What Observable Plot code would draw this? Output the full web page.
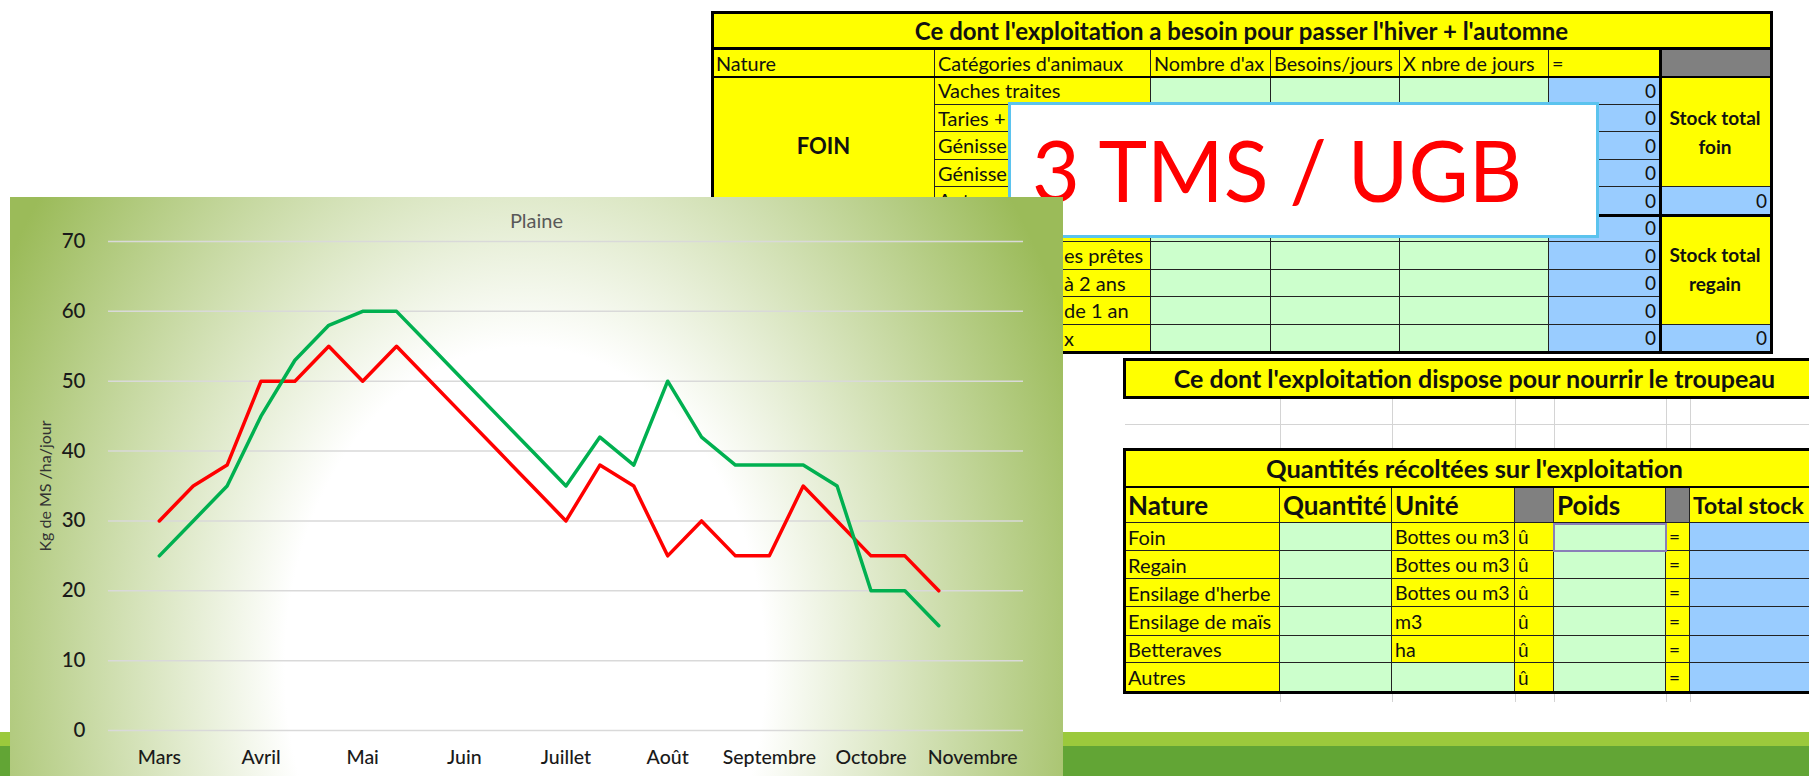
<!DOCTYPE html>
<html><head><meta charset="utf-8">
<script src="https://cdn.jsdelivr.net/npm/d3@7"></script>
<script src="https://cdn.jsdelivr.net/npm/@observablehq/plot@0.6"></script>
<style>
html,body{margin:0;padding:0;}
body{width:1809px;height:776px;position:relative;overflow:hidden;background:#fff;font-family:Lato,"Open Sans",sans-serif;}
.c{position:absolute;box-sizing:border-box;overflow:hidden;white-space:nowrap;color:#111;display:flex;align-items:center;border-right:1px solid #222;border-bottom:1px solid #222;}
.frame{position:absolute;box-sizing:border-box;border:3px solid #000;pointer-events:none;}
.ln{position:absolute;background:#000;}
</style></head><body>
<script>
// ---------- chart data ----------
const months = ["Mars","Avril","Mai","Juin","Juillet","Août","Septembre","Octobre","Novembre"];
const serieRouge = [30,35,38,50,50,55,50,55,50,45,40,35,30,38,35,25,30,25,25,35,30,25,25,20];
const serieVerte = [25,30,35,45,53,58,60,60,55,50,45,40,35,42,38,50,42,38,38,38,35,20,20,15];
const yTicks = [0,10,20,30,40,50,60,70];
const chartTitle = "Plaine";
const yLabel = "Kg de MS /ha/jour";

// ---------- spreadsheet texts ----------
const besoinTitle = "Ce dont l'exploitation a besoin pour passer l'hiver + l'automne";
const besoinHeader = ["Nature","Catégories d'animaux","Nombre d'ax","Besoins/jours","X nbre de jours","="];
const besoinCategories = ["Vaches traites","Taries +","Génisse","Génisse","Autres","","es prêtes","à 2 ans","de 1 an","x"];
const besoinNature = ["FOIN","REGAIN"];
const stockLabels = [["Stock total","foin"],["Stock total","regain"]];
const overlayText = "3 TMS / UGB";
const disposeTitle = "Ce dont l'exploitation dispose pour nourrir le troupeau";
const recolteTitle = "Quantités récoltées sur l'exploitation";
const recolteHeader = ["Nature","Quantité","Unité","","Poids","","Total stock"];
const recolteNature = ["Foin","Regain","Ensilage d'herbe","Ensilage de maïs","Betteraves","Autres"];
const recolteUnite = ["Bottes ou m3","Bottes ou m3","Bottes ou m3","m3","ha",""];

const YEL="#FFFF00", GRN="#CCFFCC", BLU="#99CCFF", GRY="#808080";

function cell(x1,y1,x2,y2,o={}){
  const d=document.createElement("div");
  d.className="c";
  Object.assign(d.style,{left:x1+"px",top:y1+"px",width:(x2-x1)+"px",height:(y2-y1)+"px",background:o.bg||"transparent",fontSize:(o.size||19)+"px",fontWeight:o.bold?"700":"400",justifyContent:o.align==="center"?"center":o.align==="right"?"flex-end":"flex-start",paddingLeft:(o.pl??3)+"px",paddingRight:(o.pr??3)+"px",zIndex:o.z||1});
  if(o.html) d.innerHTML=o.html; else if(o.text!==undefined) d.textContent=o.text;
  if(o.lh) d.style.lineHeight=o.lh;
  if(o.flexCol){d.style.flexDirection="column";d.style.justifyContent="center";}
  document.body.appendChild(d);return d;
}
function frame(x1,y1,x2,y2,w=3,z=2,color="#000"){
  const d=document.createElement("div");d.className="frame";
  Object.assign(d.style,{left:x1+"px",top:y1+"px",width:(x2-x1)+"px",height:(y2-y1)+"px",borderWidth:w+"px",borderColor:color,zIndex:z});
  document.body.appendChild(d);return d;
}
function line(x1,y1,x2,y2,color="#000",z=2){
  const d=document.createElement("div");d.className="ln";
  Object.assign(d.style,{left:x1+"px",top:y1+"px",width:Math.max(1,x2-x1)+"px",height:Math.max(1,y2-y1)+"px",background:color,zIndex:z});
  document.body.appendChild(d);return d;
}
function placeBaseline(el,targetY){
  const m=document.createElement("span");
  m.style.cssText="display:inline-block;width:0;height:0;vertical-align:baseline";
  el.appendChild(m);
  const y=m.getBoundingClientRect().top;
  el.style.top=(parseFloat(el.style.top)+(targetY-y))+"px";
  m.remove();
}

// ---------- top table ----------
const cx=[713,935,1151,1271,1400,1549,1660,1771];
const rowY=i=>77+i*27.5;
cell(713,13,1771,49,{bg:YEL,text:besoinTitle,bold:true,size:24,align:"center"});
besoinHeader.forEach((t,i)=>cell(cx[i],49,cx[i+1],77,{bg:YEL,text:t,size:19.8}));
cell(cx[6],49,cx[7],77,{bg:GRY});
cell(cx[0],rowY(0),cx[1],rowY(5),{bg:YEL,text:besoinNature[0],bold:true,size:22,align:"center"});
cell(cx[0],rowY(5),cx[1],rowY(10),{bg:YEL,text:besoinNature[1],bold:true,size:22,align:"center"});
besoinCategories.forEach((t,i)=>{
  cell(cx[1],rowY(i),cx[2],rowY(i+1),{bg:YEL,text:t,size:20,pl:i>=6?129:3});
  for(let k=2;k<5;k++) cell(cx[k],rowY(i),cx[k+1],rowY(i+1),{bg:GRN});
  cell(cx[5],rowY(i),cx[6],rowY(i+1),{bg:BLU,text:"0",size:19,align:"right"});
});
stockLabels.forEach((s,g)=>{
  cell(cx[6],rowY(g*5),cx[7],rowY(g*5+4),{bg:YEL,html:s.map(t=>`<div>${t}</div>`).join(""),bold:true,size:19,align:"center",flexCol:true,lh:"29px"});
  cell(cx[6],rowY(g*5+4),cx[7],rowY(g*5+5),{bg:BLU,text:"0",size:19,align:"right"});
});
frame(711,11,1773,354,3);
line(713,47,1771,50);line(713,76,1771,78);
line(713,rowY(5)-1,1771,rowY(5)+2);
line(cx[6]-1,49,cx[6]+2,352);

// overlay box
const ob=document.createElement("div");
Object.assign(ob.style,{position:"absolute",left:"1008px",top:"102px",width:"591px",height:"136px",boxSizing:"border-box",border:"3px solid #5BC3EE",background:"#fff",zIndex:5});
document.body.appendChild(ob);
const ot=document.createElement("span");
ot.textContent=overlayText;
Object.assign(ot.style,{position:"absolute",left:"21px",top:"0px",fontSize:"86px",lineHeight:"100px",color:"#FF0000",fontFamily:"Lato",transformOrigin:"left center",display:"inline-block",whiteSpace:"nowrap"});
ob.appendChild(ot);

// ---------- bottom tables ----------
const bx=[1125,1280,1392,1515,1554,1666,1690,1825];
cell(1125,360,1825,397,{bg:YEL,text:disposeTitle,bold:true,size:25,align:"center"});
frame(1123,358,1827,399,3);
[424,450].forEach(y=>line(1125,y,1809,y+1,"#d4d4d4",0));
bx.slice(1,7).forEach(x=>{line(x,397,x+1,450,"#d4d4d4",0);line(x,692,x+1,702,"#d4d4d4",0);});
cell(1125,450,1825,487,{bg:YEL,text:recolteTitle,bold:true,size:25.5,align:"center"});
recolteHeader.forEach((t,i)=>cell(bx[i],487,bx[i+1],523,{bg:(i===3||i===5)?GRY:YEL,text:t,bold:true,size:i===6?23:26}));
const rY=[523,551,579,607,636,663,692];
recolteNature.forEach((n,i)=>{
  cell(bx[0],rY[i],bx[1],rY[i+1],{bg:YEL,text:n,size:20});
  cell(bx[1],rY[i],bx[2],rY[i+1],{bg:GRN});
  cell(bx[2],rY[i],bx[3],rY[i+1],{bg:recolteUnite[i]?YEL:GRN,text:recolteUnite[i],size:19.5});
  cell(bx[3],rY[i],bx[4],rY[i+1],{bg:YEL,text:"û",size:19});
  cell(bx[4],rY[i],bx[5],rY[i+1],{bg:GRN});
  cell(bx[5],rY[i],bx[6],rY[i+1],{bg:YEL,text:"=",size:19});
  cell(bx[6],rY[i],bx[7],rY[i+1],{bg:BLU});
});
frame(bx[4]-1,rY[0],bx[5]+1,rY[1]+1,2,3,"#8a7fb8");
frame(1123,448,1827,694,3);
line(1125,486,1825,488);

// ---------- green band ----------
line(0,732,1809,746,"#9BC93C",0);
line(0,746,1809,776,"#62A535",0);

// ---------- chart panel ----------
const panel=document.createElement("div");
Object.assign(panel.style,{position:"absolute",left:"10px",top:"197px",width:"1053px",height:"579px",zIndex:10,overflow:"hidden",
  background:"radial-gradient(600px 800px at 515px 470px, #ffffff 0%, #ffffff 40%, #9BBB59 100%)"});
document.body.appendChild(panel);
const tt=document.createElement("div");
tt.textContent=chartTitle;
Object.assign(tt.style,{position:"absolute",left:"0",top:"0px",width:"1053px",textAlign:"center",fontSize:"20px",lineHeight:"26px",color:"#595959",fontFamily:"Lato",zIndex:2});
panel.appendChild(tt);

const chart=Plot.plot({
  width:1053,height:579,
  marginLeft:98,marginRight:40,marginTop:44,marginBottom:46,
  style:{background:"transparent",fontFamily:"Lato",overflow:"visible"},
  x:{domain:[-1.5,25.5],axis:null},
  y:{domain:[0,70],axis:null},
  marks:[
    Plot.gridY(yTicks,{stroke:"#D9D9D9",strokeOpacity:1,strokeWidth:1.5}),
    Plot.axisY(yTicks,{tickSize:0,tickPadding:23,fontSize:20.5,fontWeight:500,fill:"#1a1a1a",label:null}),
    Plot.axisX(months.map((m,i)=>i*3),{tickSize:0,tickPadding:20,fontSize:19.5,fontWeight:500,fill:"#1a1a1a",tickFormat:d=>months[d/3],label:null}),
    Plot.text([yLabel],{frameAnchor:"left",rotate:-90,dx:-63,textAnchor:"middle",lineAnchor:"middle",fontSize:16,fill:"#333"}),
    Plot.line(serieRouge,{x:(d,i)=>i,y:d=>d,stroke:"#FF0000",strokeWidth:3.5,strokeLinejoin:"round"}),
    Plot.line(serieVerte,{x:(d,i)=>i,y:d=>d,stroke:"#00B050",strokeWidth:3.5,strokeLinejoin:"round"})
  ]
});
chart.style.position="absolute";chart.style.left="0";chart.style.top="0";
panel.appendChild(chart);

// text placement by baseline + width fitting
placeBaseline(ot,202);
const w=ot.getBoundingClientRect().width;
ot.style.transform=`scaleX(${490/w})`;
placeBaseline(tt,227.5);
</script>
</body></html>
